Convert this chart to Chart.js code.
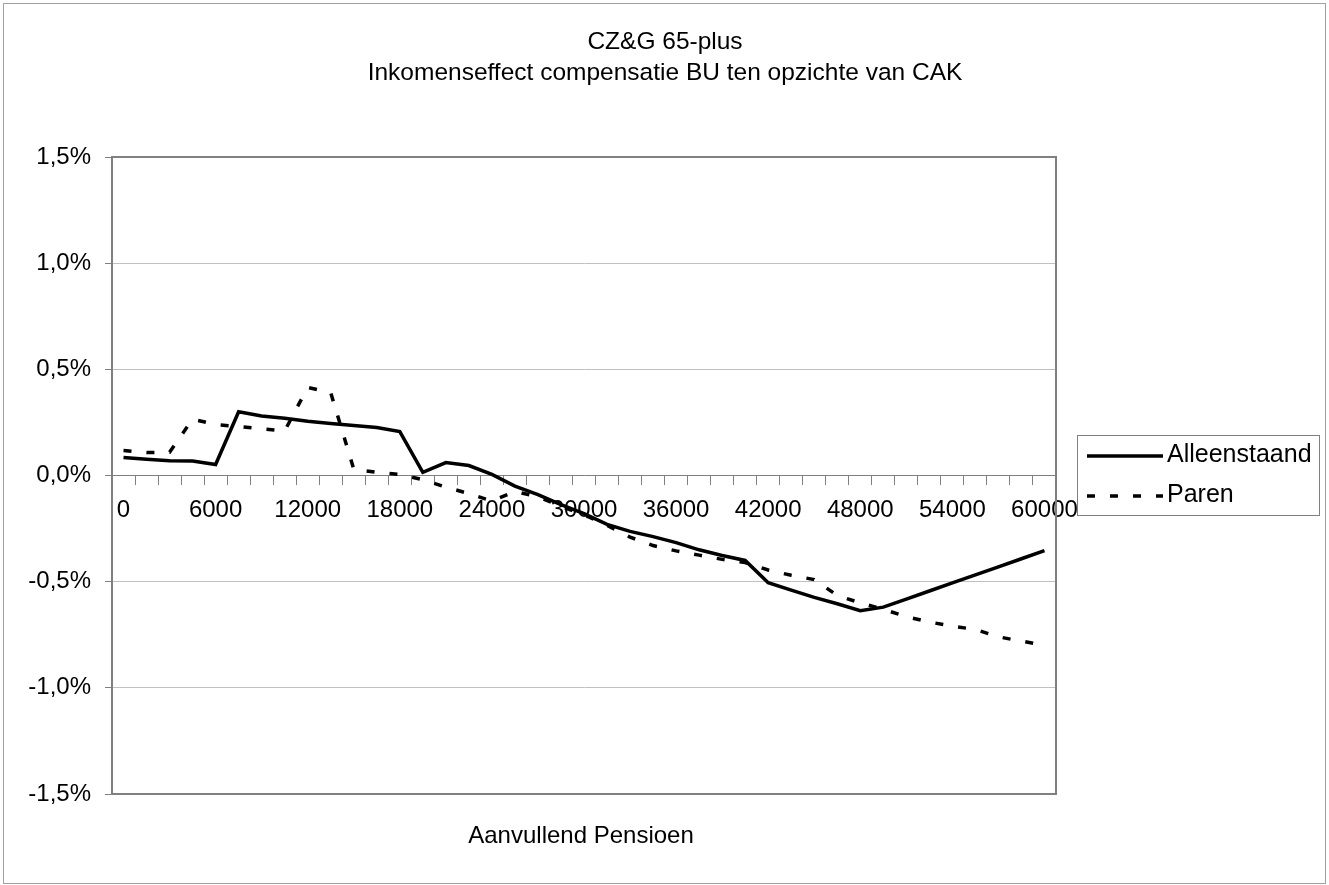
<!DOCTYPE html>
<html>
<head>
<meta charset="utf-8">
<title>CZ&amp;G 65-plus</title>
<script src="https://cdn.jsdelivr.net/npm/chart.js@4.4.1/dist/chart.umd.min.js"></script>
<style>
  html, body { margin: 0; padding: 0; background: #fff; }
  #wrap { width: 1329px; height: 885px; }
</style>
</head>
<body>
<div id="wrap"><canvas id="grafiek" width="1329" height="885"></canvas></div>
<script>
const categorieen = [0, 1500, 3000, 4500, 6000, 7500, 9000, 10500, 12000, 13500,
  15000, 16500, 18000, 19500, 21000, 22500, 24000, 25500, 27000, 28500,
  30000, 31500, 33000, 34500, 36000, 37500, 39000, 40500, 42000, 43500,
  45000, 46500, 48000, 49500, 51000, 52500, 54000, 55500, 57000, 58500, 60000];

// inkomenseffect in procenten
const alleenstaand = [0.085, 0.077, 0.070, 0.068, 0.052, 0.300, 0.280, 0.270, 0.255, 0.245,
  0.236, 0.226, 0.207, 0.015, 0.061, 0.047, 0.005, -0.050, -0.090, -0.137,
  -0.180, -0.230, -0.263, -0.288, -0.316, -0.350, -0.377, -0.400, -0.505, -0.540,
  -0.574, -0.604, -0.637, -0.620, -0.582, -0.544, -0.506, -0.468, -0.430, -0.392, -0.354];

const paren = [0.118, 0.108, 0.110, 0.265, 0.240, 0.230, 0.220, 0.210, 0.415, 0.390,
  0.030, 0.015, 0.005, -0.020, -0.055, -0.085, -0.120, -0.075, -0.100, -0.145,
  -0.185, -0.235, -0.290, -0.330, -0.355, -0.375, -0.395, -0.410, -0.445, -0.470,
  -0.490, -0.565, -0.600, -0.630, -0.665, -0.690, -0.710, -0.725, -0.760, -0.780, -0.800];

const yTicks = [-1.5, -1.0, -0.5, 0, 0.5, 1.0, 1.5];

const titelRegels = ['CZ&G 65-plus', 'Inkomenseffect compensatie BU ten opzichte van CAK'];

const lettertype = "'Liberation Sans', Arial, sans-serif";
const grijs = '#808080';

// titel, kader, assentitel en legenda worden met de hand getekend
const kaderPlugin = {
  id: 'kader',
  beforeDraw(chart) {
    const ctx = chart.ctx;
    ctx.save();
    ctx.fillStyle = '#fff';
    ctx.fillRect(0, 0, chart.width, chart.height);
    ctx.strokeStyle = '#a0a0a0';
    ctx.lineWidth = 1;
    ctx.strokeRect(3.5, 3.5, chart.width - 7, chart.height - 5);

    ctx.fillStyle = '#000';
    ctx.font = '24.5px ' + lettertype;
    ctx.textAlign = 'center';
    ctx.textBaseline = 'middle';
    titelRegels.forEach((t, i) => ctx.fillText(t, 665, 42 + i * 31));
    ctx.restore();
  },
  beforeDatasetsDraw(chart) {
    const ctx = chart.ctx;
    const a = chart.chartArea;
    ctx.save();
    ctx.strokeStyle = grijs;
    ctx.lineWidth = 2;
    ctx.strokeRect(a.left, a.top, a.right - a.left, a.bottom - a.top);
    ctx.restore();
  },
  afterDraw(chart) {
    const ctx = chart.ctx;
    const a = chart.chartArea;
    ctx.save();
    ctx.fillStyle = '#000';
    ctx.font = '24px ' + lettertype;
    ctx.textAlign = 'center';
    ctx.textBaseline = 'middle';
    ctx.fillText('Aanvullend Pensioen', (a.left + a.right) / 2 - 3, 836);

    // legenda
    const lx = 1077, ly = 435, lw = 242, lh = 80;
    ctx.strokeStyle = grijs;
    ctx.lineWidth = 1;
    ctx.strokeRect(lx + 0.5, ly + 0.5, lw, lh);
    ctx.font = '25px ' + lettertype;
    const rijen = [456, 496];
    chart.data.datasets.forEach((ds, i) => {
      const y = rijen[i];
      ctx.strokeStyle = ds.borderColor;
      ctx.lineWidth = ds.borderWidth;
      ctx.setLineDash(ds.borderDash || []);
      ctx.beginPath();
      ctx.moveTo(lx + 10, y);
      ctx.lineTo(lx + 86, y);
      ctx.stroke();
      ctx.setLineDash([]);
      ctx.textAlign = 'left';
      ctx.fillText(ds.label, lx + 90, y - 1);
    });
    ctx.restore();
  }
};

new Chart(document.getElementById('grafiek'), {
  type: 'line',
  data: {
    labels: categorieen,
    datasets: [
      {
        label: 'Alleenstaand',
        data: alleenstaand,
        borderColor: '#000',
        borderWidth: 3.5,
        pointRadius: 0,
        tension: 0,
        fill: false
      },
      {
        label: 'Paren',
        data: paren,
        borderColor: '#000',
        borderWidth: 3.5,
        borderDash: [8, 15],
        borderCapStyle: 'butt',
        pointRadius: 0,
        tension: 0,
        fill: false
      }
    ]
  },
  options: {
    responsive: false,
    animation: false,
    layout: { padding: { top: 157, left: 0, right: 273, bottom: 91 } },
    plugins: {
      legend: { display: false },
      tooltip: { enabled: false },
      title: { display: false }
    },
    scales: {
      x: {
        type: 'category',
        position: { y: 0 },
        offset: true,
        afterFit(scale) { scale.height = 0; },
        grid: {
          offset: true,
          drawOnChartArea: false,
          drawTicks: true,
          tickLength: 9,
          color: grijs,
          lineWidth: 1
        },
        border: { display: true, color: grijs, width: 1 },
        ticks: {
          autoSkip: false,
          maxRotation: 0,
          padding: 11,
          color: '#000',
          font: { family: lettertype, size: 24 },
          callback(value, index) {
            return index % 4 === 0 ? String(categorieen[index]) : '';
          }
        }
      },
      y: {
        min: yTicks[0],
        max: yTicks[yTicks.length - 1],
        afterFit(scale) { scale.width = 112; },
        afterBuildTicks(scale) { scale.ticks = yTicks.map(v => ({ value: v })); },
        grid: {
          color: '#c0c0c0',
          lineWidth: 1,
          tickLength: 7,
          tickColor: grijs
        },
        border: { display: true, color: grijs, width: 2 },
        ticks: {
          padding: 14,
          color: '#000',
          font: { family: lettertype, size: 24 },
          callback(value) {
            return value.toFixed(1).replace('.', ',') + '%';
          }
        }
      }
    }
  },
  plugins: [kaderPlugin]
});
</script>
</body>
</html>
